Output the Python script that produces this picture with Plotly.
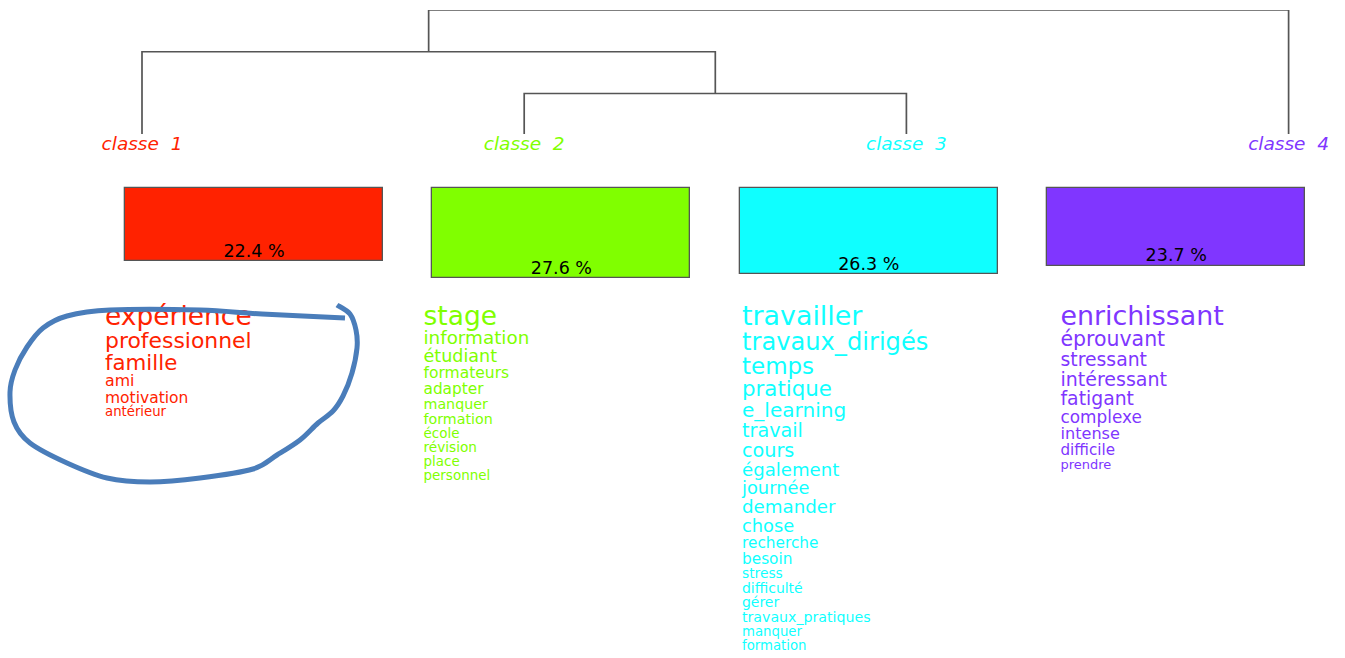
import plotly.graph_objects as go

# ---------------- data ----------------
class_names = ["classe  1", "classe  2", "classe  3", "classe  4"]
class_pct = [22.4, 27.6, 26.3, 23.7]
class_colors = ["#FF2200", "#80FF00", "#0FFFFF", "#8036FF"]

# dendrogram: merges of node ids (0-3 leaves, 4.. new nodes) and their heights
merges = [(1, 2), (0, 4), (5, 3)]
merge_heights = [0.98, 1.99, 3.0]

words_1 = ["expérience", "professionnel", "famille", "ami", "motivation", "antérieur"]
sizes_1 = [27.3, 22.6, 22.0, 16.3, 16.0, 13.7]

words_2 = ["stage", "information", "étudiant", "formateurs", "adapter", "manquer",
           "formation", "école", "révision", "place", "personnel"]
sizes_2 = [27.3, 18.9, 18.1, 16.0, 15.8, 14.7, 14.7, 13.9, 14.1, 13.9, 13.9]

words_3 = ["travailler", "travaux_dirigés", "temps", "pratique", "e_learning", "travail",
           "cours", "également", "journée", "demander", "chose", "recherche", "besoin",
           "stress", "difficulté", "gérer", "travaux_pratiques", "manquer", "formation"]
sizes_3 = [27.7, 24.9, 23.7, 22.0, 20.7, 19.8, 19.8, 18.7, 18.4, 18.8, 18.4, 15.8, 15.8,
           14.2, 14.4, 14.4, 14.6, 13.7, 13.7]

words_4 = ["enrichissant", "éprouvant", "stressant", "intéressant", "fatigant",
           "complexe", "intense", "difficile", "prendre"]
sizes_4 = [27.7, 21.1, 19.4, 19.6, 19.4, 17.4, 16.6, 15.6, 13.4]

class_words = [words_1, words_2, words_3, words_4]
class_sizes = [sizes_1, sizes_2, sizes_3, sizes_4]

# ---------------- layout constants ----------------
W, H = 1345, 658
FONT = "DejaVu Sans"
FONT_SCALE = 0.97
LEAF_X0, LEAF_DX = 142.0, 382.2
BAR_X0, BAR_DX, BAR_W = 254.0, 307.4, 258
BAR_TOP_PX, PX_PER_PCT, BAR_PAD_PX = 188, 3.275, 4
WORD_X0, WORD_DX = 105.0, 318.5
WORD_FIRST_BASE, LINE_FACTOR = 325, 1.04
LINE_COL = "#555555"

fig = go.Figure()

# ---------------- dendrogram ----------------
node_x = {i: LEAF_X0 + i * LEAF_DX for i in range(4)}
node_h = {i: 0.0 for i in range(4)}
dx, dy = [], []
for k, ((a, b), h) in enumerate(zip(merges, merge_heights)):
    nid = 4 + k
    dx += [node_x[a], node_x[a], node_x[b], node_x[b], None]
    dy += [node_h[a], h, h, node_h[b], None]
    node_x[nid] = (node_x[a] + node_x[b]) / 2
    node_h[nid] = h
fig.add_trace(go.Scatter(x=dx, y=dy, mode="lines", yaxis="y3",
                         line=dict(color=LINE_COL, width=1.7),
                         hoverinfo="skip", cliponaxis=False))

# class labels under leaves
fig.add_trace(go.Scatter(
    x=[node_x[i] for i in range(4)], y=[150 - 0.25 * 18.5] * 4,
    mode="text", text=class_names, textposition="middle center",
    textfont=dict(family=FONT, size=18.5, color=class_colors, style="italic"),
    hoverinfo="skip", cliponaxis=False))

# ---------------- bars ----------------
bar_x = [BAR_X0 + i * BAR_DX for i in range(4)]
fig.add_trace(go.Bar(x=bar_x, y=class_pct, base=0, width=BAR_W, yaxis="y2",
                     marker=dict(color=class_colors, line=dict(color=LINE_COL, width=1.3)),
                     hoverinfo="skip", cliponaxis=False))
fig.add_trace(go.Scatter(x=bar_x, y=class_pct, yaxis="y2", mode="text",
                         text=[f"{p} %" for p in class_pct], textposition="top center",
                         textfont=dict(family=FONT, size=17.5, color="black"),
                         hoverinfo="skip", cliponaxis=False))

# ---------------- word lists ----------------
for i, (ws, ss) in enumerate(zip(class_words, class_sizes)):
    fs = [s * FONT_SCALE for s in ss]
    bases = [WORD_FIRST_BASE]
    for s in fs[1:]:
        bases.append(bases[-1] + LINE_FACTOR * s)
    ys = [b - 0.25 * s for b, s in zip(bases, fs)]
    fig.add_trace(go.Scatter(
        x=[WORD_X0 + i * WORD_DX] * len(ws), y=ys, mode="text", text=ws,
        textposition="middle right",
        textfont=dict(family=FONT, size=fs, color=class_colors[i]),
        hoverinfo="skip", cliponaxis=False))

# ---------------- hand-drawn highlight (annotation overlay) ----------------
pts = [(337, 305), (350, 314), (356, 330), (357, 348), (352, 373), (343, 396),
       (333, 411), (318, 423), (300, 440), (277, 455), (253, 469), (200, 478),
       (150, 482), (107, 478), (67, 463), (30, 443), (14, 422), (10, 392),
       (15, 370), (27, 347), (43, 328), (67, 316), (110, 310), (200, 310),
       (262, 314), (345, 318)]
path = f"M {pts[0][0]},{pts[0][1]}"
for j in range(len(pts) - 1):
    p0 = pts[j - 1] if j > 0 else pts[j]
    p1, p2 = pts[j], pts[j + 1]
    p3 = pts[j + 2] if j + 2 < len(pts) else pts[j + 1]
    c1 = (p1[0] + (p2[0] - p0[0]) / 6, p1[1] + (p2[1] - p0[1]) / 6)
    c2 = (p2[0] - (p3[0] - p1[0]) / 6, p2[1] - (p3[1] - p1[1]) / 6)
    path += f" C {c1[0]:.1f},{c1[1]:.1f} {c2[0]:.1f},{c2[1]:.1f} {p2[0]},{p2[1]}"
fig.add_shape(type="path", path=path, xref="x", yref="y",
              line=dict(color="#4A7DBA", width=5), layer="above")

# ---------------- axes / layout ----------------
fig.update_layout(
    width=W, height=H, margin=dict(l=0, r=0, t=0, b=0),
    paper_bgcolor="white", plot_bgcolor="rgba(0,0,0,0)", showlegend=False,
    xaxis=dict(range=[0, W], visible=False, fixedrange=True),
    yaxis=dict(range=[H, 0], domain=[0, 1], visible=False, fixedrange=True),
    yaxis2=dict(range=[(H - BAR_TOP_PX) / PX_PER_PCT, -BAR_PAD_PX / PX_PER_PCT],
                domain=[0, (H - BAR_TOP_PX + BAR_PAD_PX) / H],
                visible=False, anchor="x", fixedrange=True),
    yaxis3=dict(range=[0, 3.0], domain=[(H - 134) / H, (H - 10) / H],
                visible=False, anchor="x", fixedrange=True),
    bargap=0,
)

fig.write_html("out.html", post_script="document.body.style.margin='0';",
               config={"displayModeBar": False})
